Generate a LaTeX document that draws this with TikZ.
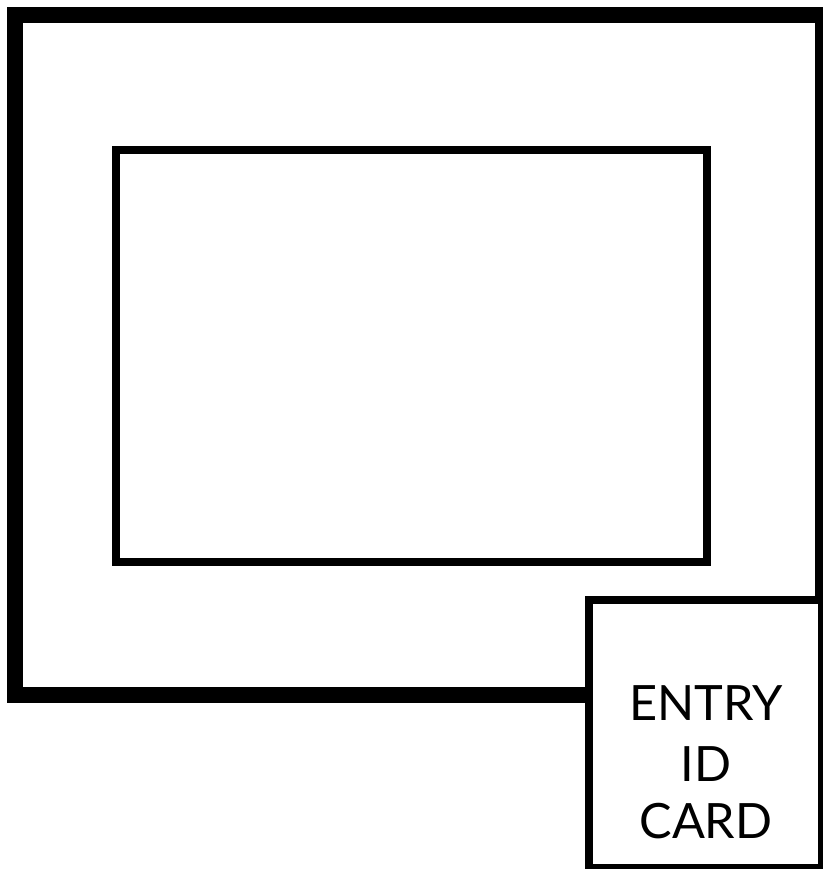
\documentclass[tikz,border=0pt]{standalone}
\usepackage{fontspec}
\setmainfont{Lato}
\tikzset{
  frameline/.style={draw=black, line width=12pt, line join=miter},
  thinline/.style={draw=black, line width=6pt, line join=miter},
  cardtext/.style={font=\fontsize{36.5}{44}\selectfont, anchor=base, inner sep=0pt}
}
\begin{document}
\begin{tikzpicture}[x=0.75pt, y=-0.75pt]
\useasboundingbox (0,0) rectangle (823,869);
\clip (0,0) rectangle (823,869);
\fill[white] (0,0) rectangle (823,869);
% outer frame
\draw[frameline] (15,15) rectangle (823,695);
% inner frame
\draw[thinline] (116,150) rectangle (707,562);
% entry card
\node[thinline, fill=white, rectangle, minimum width=175pt, minimum height=201pt, inner sep=0pt] (card) at (705.5,734) {};
\node[cardtext] (t1) at (706,720) {ENTRY};
\node[cardtext] (t2) at (706,781) {ID};
\node[cardtext] (t3) at (706,838) {CARD};
\end{tikzpicture}
\end{document}
